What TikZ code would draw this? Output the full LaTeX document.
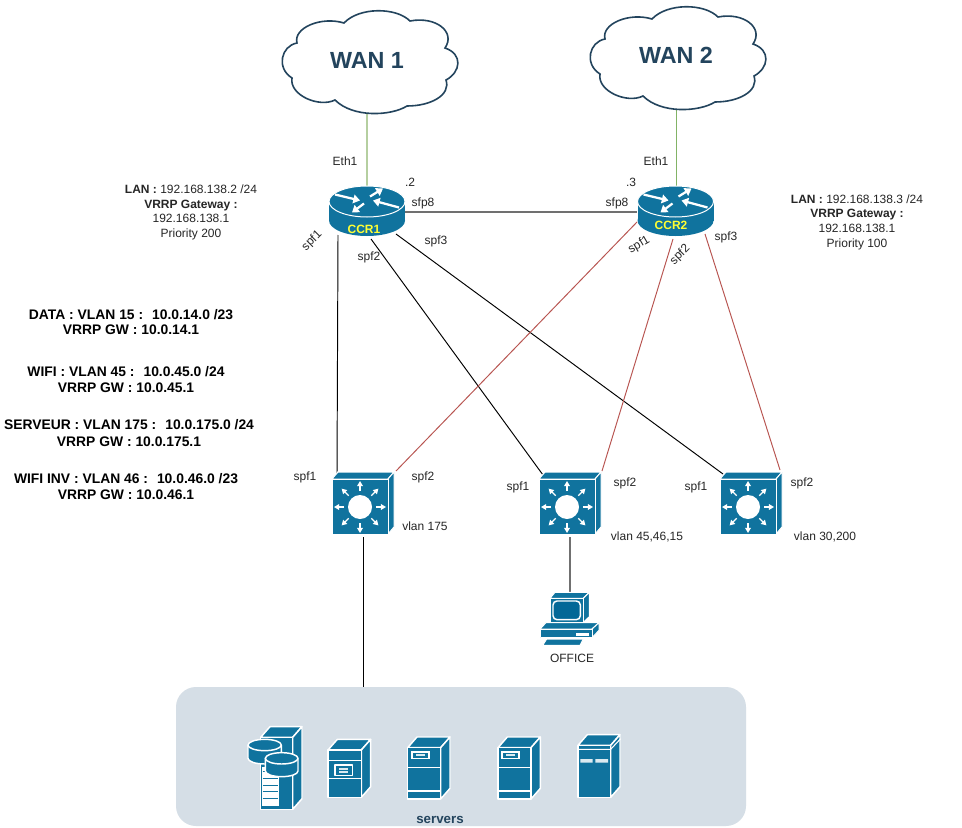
\documentclass[tikz,border=0pt]{standalone}
\usepackage{fontspec}
\setmainfont{Liberation Sans}
\usetikzlibrary{calc,arrows.meta}
\definecolor{ciscoblue}{HTML}{10739E}
\definecolor{screenblue}{HTML}{036897}
\definecolor{groupfill}{HTML}{D5DEE6}
\definecolor{navy}{HTML}{23445D}
\definecolor{redlink}{HTML}{B85450}
\definecolor{greenlink}{HTML}{B5CFA0}
\definecolor{greenthin}{HTML}{82B366}
\definecolor{graylink}{HTML}{707070}
\definecolor{labelgray}{HTML}{262626}
\definecolor{ccryellow}{HTML}{FFFF33}
\tikzset{
  x=0.75pt,y=-0.75pt,
  txt/.style={font=\fontsize{9}{11}\selectfont,text=labelgray,inner sep=0pt,align=center,text height=6.8pt,text depth=2pt,yshift=-0.6pt},
  boldtxt/.style={font=\bfseries\fontsize{10.4}{12}\selectfont,text=black,inner sep=0pt,align=center,text height=7.6pt,text depth=2pt,yshift=-1.2pt},
  place/.style n args={2}{inner sep=0pt,minimum width=#1*0.75pt,minimum height=#2*0.75pt},
  blackline/.style={draw=black,line width=0.72pt},
  redline/.style={draw=redlink,line width=0.72pt},
  icon/.style={fill=ciscoblue,draw=white,line width=0.75pt,line join=round},
  thick icon/.style={fill=ciscoblue,draw=white,line width=1.1pt,line join=round},
  whitearrow/.style={draw=white,line width=0.95pt,-{Triangle[width=4.2pt,length=3.8pt]}},
  routerarrow/.style={draw=white,line width=1.7pt,-{Triangle[width=6.5pt,length=5pt]}},
}
% cloud outline, drawn in a 176 x 102 box from its top left corner
\newcommand{\cloudshape}[1]{%
  \draw[shift={(#1)},fill=white,draw=navy,line width=1.2pt]
    (16,33) .. controls (12,18) and (40,6) .. (63,13)
    .. controls (78,-3) and (115,-3) .. (129,11)
    .. controls (155,6) and (175,22) .. (164,38)
    .. controls (182,44) and (180,62) .. (165,70)
    .. controls (170,85) and (150,96) .. (126,96)
    .. controls (110,106) and (72,108) .. (54,90)
    .. controls (38,98) and (8,85) .. (11,68)
    .. controls (-5,58) and (0,36) .. (16,33) -- cycle;}
% router drum, origin at the centre of its top face
\newcommand{\routershape}[1]{%
  \begin{scope}[shift={(#1)}]
    \fill[ciscoblue] (-38,0) rectangle (38,19);
    \fill[ciscoblue] (0,19) ellipse [x radius=38,y radius=15.5];
    \draw[fill=ciscoblue,draw=white,line width=0.75pt] (0,0) ellipse [x radius=38,y radius=15.5];
    \draw[routerarrow] (-32,-7) -- (-7,-1);
    \draw[routerarrow] (3,-5) -- (16,-13);
    \draw[routerarrow] (32,6) -- (6,-1);
    \draw[routerarrow] (-3,2) -- (-15,11);
  \end{scope}}
% layer 3 switch, origin at the top left corner of its front face
\newcommand{\switchshape}[1]{%
  \begin{scope}[shift={(#1)}]
    \draw[icon] (0,0) -- (6,-7) -- (62,-7) -- (56,0) -- cycle;
    \draw[icon] (56,0) -- (62,-7) -- (62,48) -- (56,55) -- cycle;
    \draw[icon] (0,0) rectangle (56,55);
    \begin{scope}[shift={(28,28)}]
      \fill[white] (0,0) circle [radius=12];
      \foreach \a in {0,45,...,315}
        \draw[whitearrow] (\a:16) -- (\a:26);
    \end{scope}
  \end{scope}}
% workstation, drawn at one third scale from its bounding corner
\newcommand{\pcshape}[1]{%
  \begin{scope}[shift={(#1)},scale=1/3]
    \draw[icon] (60,40) -- (75,22) -- (178,22) -- (160,40) -- cycle;
    \draw[icon] (160,40) -- (178,22) -- (178,95) -- (160,112) -- cycle;
    \draw[icon] (60,40) rectangle (160,112);
    \draw[draw=white,fill=screenblue,line width=1.1pt,rounded corners=3pt] (69,48) rectangle (151,104);
    \draw[icon] (30,132) -- (48,113) -- (207,113) -- (186,132) -- cycle;
    \draw[icon] (186,132) -- (207,113) -- (207,136) -- (186,158) -- cycle;
    \draw[icon] (30,132) rectangle (186,158);
    \fill[white] (137,145) rectangle (178,152);
    \draw[icon] (50,162) -- (160,162) -- (150,181) -- (38,181) -- cycle;
  \end{scope}}
% shared tower body: front corners (a,b)-(c,d), depth 28 by 32
\newcommand{\towerbody}[4]{%
  \draw[thick icon] (#1,#2) -- ({#1+28},{#2-32}) -- ({#3+28},{#2-32}) -- (#3,#2) -- cycle;
  \draw[thick icon] (#3,#2) -- ({#3+28},{#2-32}) -- ({#3+28},{#4-32}) -- (#3,#4) -- cycle;
  \draw[thick icon] (#1,#2) rectangle (#3,#4);}
\begin{document}
\begin{tikzpicture}
  \useasboundingbox[fill=white] (0,0) rectangle (962,827);

  % placement of the main elements
  \node[place={176}{102}] (wan1) at (369,61) {};
  \node[place={176}{102}] (wan2) at (677,57) {};
  \node[place={76}{50}] (ccr1) at (367,212) {};
  \node[place={76}{50}] (ccr2) at (675.5,212) {};
  \node[place={62}{62}] (sw1) at (363,503) {};
  \node[place={62}{62}] (sw2) at (570,503) {};
  \node[place={62}{62}] (sw3) at (751,503) {};
  \node[place={58}{55}] (office) at (570,619.5) {};

  % server group background
  \node[place={570}{139},fill=groupfill,rounded corners=15pt] (servers) at (461,756.5) {};

  % uplinks
  \draw[draw=greenlink,line width=0.9pt] (367,112) -- (ccr1.north -| 367,0);
  \draw[draw=greenthin,line width=0.5pt] (676,107) -- (ccr2.north -| 676,0);
  % inter-router link
  \draw[draw=graylink,line width=1.1pt] (ccr1.east) -- (ccr2.west);
  % CCR1 downlinks
  \draw[blackline] ($(ccr1.center)+(-29,23)$) -- ($(sw1.center)+(-26,-29)$);
  \draw[blackline] ($(ccr1.center)+(4,27)$) -- ($(sw2.center)+(-27,-28)$);
  \draw[blackline] ($(ccr1.center)+(29,22)$) -- ($(sw3.center)+(-28,-29)$);
  % CCR2 downlinks
  \draw[redline] ($(ccr2.center)+(-38.5,10)$) -- ($(sw1.center)+(33,-32)$);
  \draw[redline] ($(ccr2.center)+(-2.5,27)$) -- ($(sw2.center)+(32,-32)$);
  \draw[redline] ($(ccr2.center)+(29.5,22)$) -- ($(sw3.center)+(29,-33)$);
  % access links
  \draw[blackline] ($(sw1.center)+(0,34)$) -- (servers.north -| sw1.center);
  \draw[draw=graylink,line width=1.1pt] ($(sw2.center)+(0,34)$) -- (office.north -| sw2.center);

  % icons
  \cloudshape{281,10}
  \cloudshape{589,6}
  \routershape{367,201.5}
  \routershape{675.5,201.5}
  \switchshape{332,479}
  \switchshape{539,479}
  \switchshape{720,479}
  \pcshape{530,585}

  % servers, one third scale
  \begin{scope}[shift={(220,710)},scale=1/3]
    % database tower
    \towerbody{122}{82}{218}{298}
    \fill[white] (125,170) rectangle (178,288);
    \foreach \y in {185,205,225,245,265}
      \draw[ciscoblue,line width=0.5pt] (128,\y) -- (175,\y);
    \draw[thick icon] (84,105) -- (84,145) arc [start angle=180,end angle=0,x radius=50,y radius=17] -- (184,105);
    \draw[thick icon] (134,105) ellipse [x radius=50,y radius=17];
    \draw[thick icon] (136,145) -- (136,183) arc [start angle=180,end angle=0,x radius=49,y radius=17] -- (234,145);
    \draw[thick icon] (185,145) ellipse [x radius=49,y radius=17];
    % tower with central drive bay
    \towerbody{324}{120}{424}{262}
    \draw[white,line width=1.1pt] (324,152) -- (424,152) (324,206) -- (424,206);
    \draw[thick icon] (345,165) rectangle (397,197);
    \fill[white!85!ciscoblue] (358,173) rectangle (385,188);
    \draw[ciscoblue,line width=0.4pt] (358,180.5) -- (385,180.5);
    % towers with top drive bay
    \foreach \dx in {0,271}{
      \begin{scope}[shift={(\dx,0)}]
        \towerbody{563}{113}{662}{267}
        \draw[white,line width=1.1pt] (563,173) -- (662,173) (563,243) -- (662,243);
        \fill[white] (573,123) rectangle (629,148);
        \fill[ciscoblue] (578,128) rectangle (624,143);
        \fill[white!85!ciscoblue] (588,132) rectangle (614,139);
      \end{scope}}
    % tower with two drive slots
    \towerbody{1074}{106}{1172}{262}
    \draw[white,line width=0.8pt] (1074,118) -- (1172,118) (1172,118) -- (1202,86);
    \fill[white!85!ciscoblue] (1081,147) rectangle (1118,158) (1126,147) rectangle (1164,158);
  \end{scope}

  % titles on the main elements
  \node[font=\bfseries\fontsize{17.5}{20}\selectfont,text=navy] (wan1txt) at (367,60) {WAN 1};
  \node[font=\bfseries\fontsize{17.5}{20}\selectfont,text=navy] (wan2txt) at (676,55) {WAN 2};
  \node[font=\bfseries\fontsize{9}{11}\selectfont,text=ccryellow,inner sep=0pt] (ccr1txt) at (364,229) {CCR1};
  \node[font=\bfseries\fontsize{9}{11}\selectfont,text=ccryellow,inner sep=0pt] (ccr2txt) at (671,225) {CCR2};
  \node[font=\bfseries\fontsize{10}{12}\selectfont,text=navy,inner sep=0pt] (srvtxt) at (440,819.5) {servers};
  \node[txt] (officetxt) at (572,658) {OFFICE};

  % port labels
  \node[txt] (e1a) at (345,162) {Eth1};
  \node[txt] (e1b) at (656,162) {Eth1};
  \node[txt] (dot2) at (410,182) {.2};
  \node[txt] (dot3) at (631,182) {.3};
  \node[txt] (s8a) at (423,202) {sfp8};
  \node[txt] (s8b) at (617,202) {sfp8};
  \node[txt,rotate=45] (a1) at (312,240) {spf1};
  \node[txt] (a2) at (369,256) {spf2};
  \node[txt] (a3) at (436,240) {spf3};
  \node[txt,rotate=30] (b1) at (639,244) {spf1};
  \node[txt,rotate=45] (b2) at (680,254) {spf2};
  \node[txt] (b3) at (726,236) {spf3};
  \node[txt] (c1) at (305,476) {spf1};
  \node[txt] (c2) at (423,476) {spf2};
  \node[txt] (c3) at (425,526) {vlan 175};
  \node[txt] (d1) at (518,486) {spf1};
  \node[txt] (d2) at (625,482) {spf2};
  \node[txt] (d3) at (647,536) {vlan 45,46,15};
  \node[txt] (f1) at (696,486) {spf1};
  \node[txt] (f2) at (802,482) {spf2};
  \node[txt] (f3) at (825,536) {vlan 30,200};

  % addressing notes
  \node[txt] (lan1a) at (191,190) {\textbf{LAN :} 192.168.138.2 /24};
  \node[txt] (lan1b) at (191,205) {\textbf{VRRP Gateway :}};
  \node[txt] (lan1c) at (191,219) {192.168.138.1};
  \node[txt] (lan1d) at (191,233) {Priority 200};
  \node[txt] (lan2a) at (857,200) {\textbf{LAN :} 192.168.138.3 /24};
  \node[txt] (lan2b) at (857,214) {\textbf{VRRP Gateway :}};
  \node[txt] (lan2c) at (857,229) {192.168.138.1};
  \node[txt] (lan2d) at (857,243) {Priority 100};

  \node[boldtxt] (v1a) at (131,314) {DATA : VLAN 15 :~ 10.0.14.0 /23};
  \node[boldtxt] (v1b) at (131,329) {VRRP GW : 10.0.14.1};
  \node[boldtxt] (v2a) at (126,371) {WIFI : VLAN 45 :~ 10.0.45.0 /24};
  \node[boldtxt] (v2b) at (126,387) {VRRP GW : 10.0.45.1};
  \node[boldtxt] (v3a) at (129,424) {SERVEUR : VLAN 175 :~ 10.0.175.0 /24};
  \node[boldtxt] (v3b) at (129,441) {VRRP GW : 10.0.175.1};
  \node[boldtxt] (v4a) at (126,478) {WIFI INV : VLAN 46 :~ 10.0.46.0 /23};
  \node[boldtxt] (v4b) at (126,494) {VRRP GW : 10.0.46.1};
\end{tikzpicture}
\end{document}
